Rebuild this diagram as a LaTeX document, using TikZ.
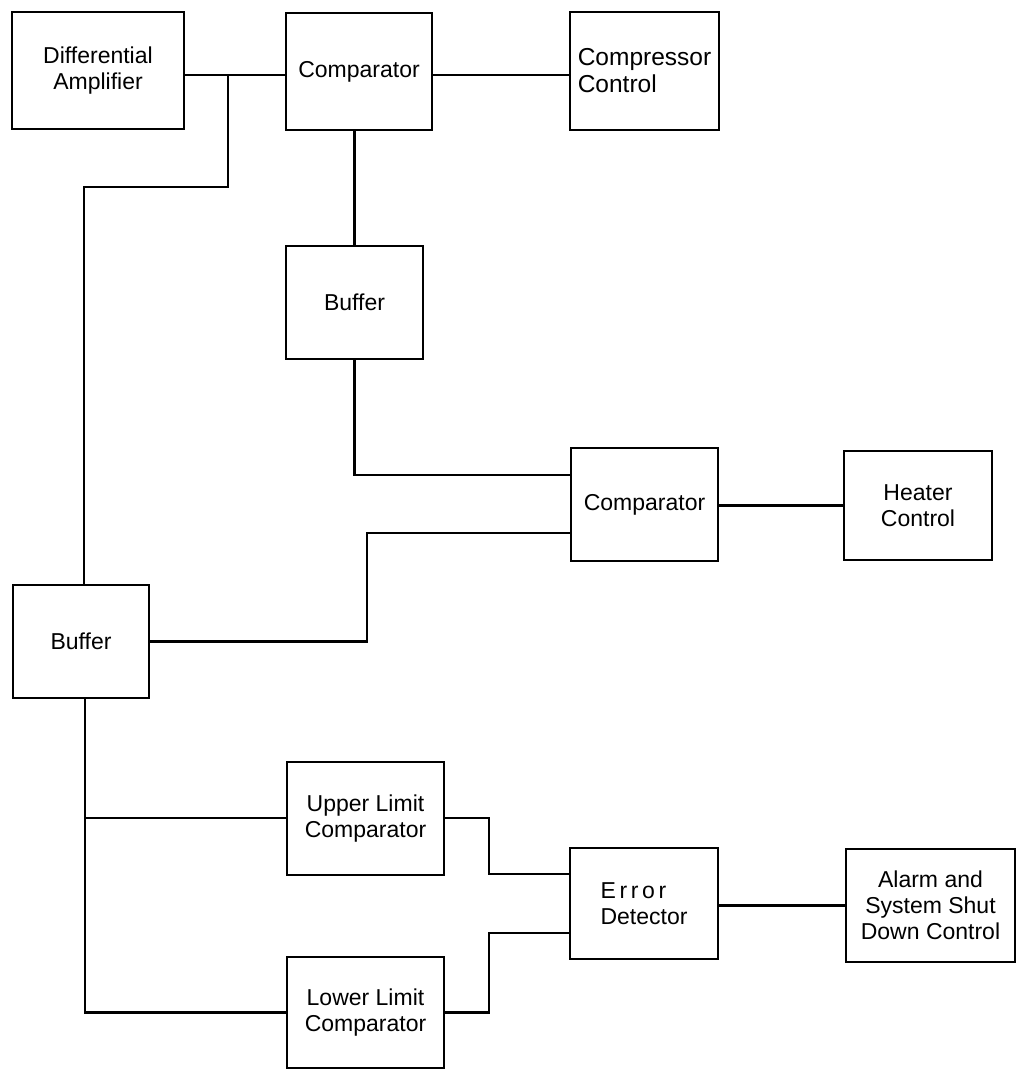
\documentclass[tikz,border=0pt]{standalone}
\usepackage{fontspec}
\setmainfont{Liberation Sans}
\begin{document}
\begin{tikzpicture}[x=1pt, y=-1pt,
  blk/.style={draw, line width=2.6pt, align=center, inner sep=2pt,
    font=\fontsize{23}{26}\selectfont},
  wire/.style={line width=2.4pt}]
\useasboundingbox[fill=white] (0,0) rectangle (1016,1071);

% blocks
\node[blk, minimum width=172pt, minimum height=117pt] (diff)  at (98,70.5)    {Differential\\Amplifier};
\node[blk, minimum width=146pt, minimum height=117pt] (comp1) at (359,71.5)   {Comparator};
\node[blk, minimum width=149pt, minimum height=118pt, align=left,
      font=\fontsize{24.5}{27}\selectfont] (cc) at (644.5,71) {Compressor\\Control};
\node[blk, minimum width=137pt, minimum height=113pt] (buf1)  at (354.5,302.5) {Buffer};
\node[blk, minimum width=147pt, minimum height=113pt] (comp2) at (644.5,504.5) {Comparator};
\node[blk, minimum width=148pt, minimum height=109pt] (heat)  at (918,505.5)  {Heater\\Control};
\node[blk, minimum width=136pt, minimum height=113pt] (buf2)  at (81,641.5)   {Buffer};
\node[blk, minimum width=157pt, minimum height=113pt] (ulc)   at (365.5,818.5) {Upper Limit\\Comparator};
\node[blk, minimum width=148pt, minimum height=111pt, align=left] (err) at (644,903.5)
      {{\addfontfeatures{LetterSpace=16}Error}\\Detector};
\node[blk, minimum width=169pt, minimum height=113pt] (alarm) at (930.5,905.5) {Alarm and\\System Shut\\Down Control};
\node[blk, minimum width=157pt, minimum height=111pt] (llc)   at (365.5,1012.5) {Lower Limit\\Comparator};

% bend and tap points of the wiring
\coordinate (j1) at (228,75);
\coordinate (k1) at (228,187);
\coordinate (k2) at (84,187);
\coordinate (b1) at (354,475);
\coordinate (b2) at (367,533);
\coordinate (t)  at (85,818);
\coordinate (e1) at (489,874);
\coordinate (e2) at (489,933);

% wiring
\draw[wire] (diff.east |- j1) -- (comp1.west |- j1);
\draw[wire] (j1) -- (k1) -- (k2) -- (k2 |- buf2.north);
\draw[wire] (comp1.east |- j1) -- (cc.west |- j1);
\draw[wire] (buf1.north) -- (buf1.north |- comp1.south);
\draw[wire] (buf1.south) -- (buf1.south |- b1) -- (comp2.west |- b1);
\draw[wire] (buf2.east) -- (buf2.east -| b2) -- (b2) -- (comp2.west |- b2);
\draw[wire] (comp2.east |- heat.west) -- (heat.west);
\draw[wire] (t |- buf2.south) -- (t |- llc.west) -- (llc.west);
\draw[wire] (t) -- (ulc.west |- t);
\draw[wire] (ulc.east |- t) -- (t -| e1) -- (e1) -- (err.west |- e1);
\draw[wire] (llc.east) -- (llc.east -| e2) -- (e2) -- (err.west |- e2);
\draw[wire] (err.east |- alarm.west) -- (alarm.west);
\end{tikzpicture}
\end{document}
